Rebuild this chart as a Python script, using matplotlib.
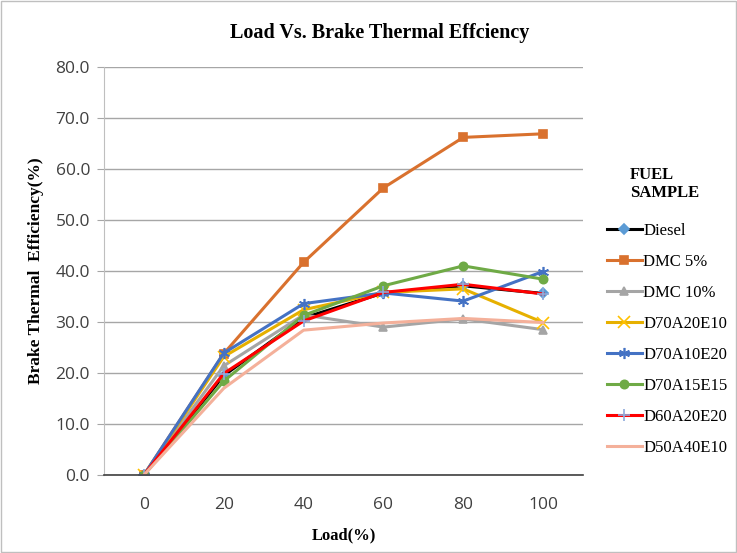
import matplotlib
matplotlib.use("Agg")
import matplotlib.pyplot as plt
from matplotlib.patches import Rectangle

loads = [0, 20, 40, 60, 80, 100]
load_labels = ["0", "20", "40", "60", "80", "100"]
yticks = [0, 10, 20, 30, 40, 50, 60, 70, 80]

diesel = [0, 19.5, 30.8, 35.7, 37.1, 35.6]
dmc5 = [0, 23.8, 41.7, 56.3, 66.2, 66.9]
dmc10 = [0, 21.4, 31.4, 29.0, 30.6, 28.5]
d70a20e10 = [0, 23.2, 32.4, 35.8, 36.5, 29.9]
d70a10e20 = [0, 23.9, 33.6, 35.7, 34.1, 39.9]
d70a15e15 = [0, 18.4, 31.3, 37.1, 41.0, 38.4]
d60a20e20 = [0, 19.9, 30.2, 35.8, 37.4, 35.5]
d50a40e10 = [0, 17.0, 28.4, 29.8, 30.7, 29.9]

series = [
    ("Diesel", diesel, "#000000", "D", "#5B9BD5"),
    ("DMC 5%", dmc5, "#D9712E", "s", "#D9712E"),
    ("DMC 10%", dmc10, "#A5A5A5", "^", "#A5A5A5"),
    ("D70A20E10", d70a20e10, "#E6B000", "x", "#FFC000"),
    ("D70A10E20", d70a10e20, "#4472C4", (6, 2, 0), "#4472C4"),
    ("D70A15E15", d70a15e15, "#6FAA46", "o", "#6FAA46"),
    ("D60A20E20", d60a20e20, "#FF0000", "+", "#8FAADC"),
    ("D50A40E10", d50a40e10, "#F4B09A", "None", "#F4B09A"),
]

fig = plt.figure(figsize=(7.37, 5.53), dpi=100)
ax = fig.add_axes([104/737, 1-475/553, (583-104)/737, (475-67)/553])

for name, vals, lc, mk, mc in series:
    ms = 6
    if mk == "D":
        ms = 5
    if mk in ("x", "+") or isinstance(mk, tuple):
        ms = 8
    ax.plot(loads, vals, color=lc, linewidth=2.2, marker=mk, markersize=ms,
            markerfacecolor=mc, markeredgecolor=mc, markeredgewidth=1.2,
            label=name)

ax.set_xlim(-10, 110)
ax.set_ylim(0, 80)
ax.set_yticks(yticks)
ax.set_yticklabels([f"{v:.1f}" for v in yticks])
ax.set_xticks(loads)
ax.set_xticklabels(load_labels)
ax.grid(axis="y", color="#A6A6A6", linewidth=1)
ax.set_axisbelow(True)
for s in ["top", "right"]:
    ax.spines[s].set_visible(False)
ax.spines["left"].set_color("#BFBFBF")
ax.spines["bottom"].set_color("#404040")
ax.spines["bottom"].set_linewidth(1.2)
ax.tick_params(axis="y", length=5, color="#A6A6A6", labelsize=12.5,
               labelcolor="#404040", pad=5)
ax.tick_params(axis="x", length=0, labelsize=12.5, labelcolor="#404040", pad=16)
for lab in ax.get_xticklabels() + ax.get_yticklabels():
    lab.set_family("Open Sans")

serif = "Liberation Serif"
fig.text(380/737, 1-33/553, "Load Vs. Brake Thermal Effciency", ha="center",
         va="center", fontsize=14.5, fontweight="bold", family=serif)
ax.set_xlabel("Load(%)", fontsize=12, fontweight="bold", family=serif, labelpad=10)
ax.set_ylabel("Brake Thermal  Efficiency(%)", fontsize=12.5, fontweight="bold",
              family=serif, labelpad=8)

fig.text(630/737, 1-175/553, "FUEL", ha="left", va="center",
         fontsize=12, fontweight="bold", family=serif)
fig.text(630/737, 1-193/553, "SAMPLE", ha="left", va="center",
         fontsize=12, fontweight="bold", family=serif)

leg = fig.legend(loc="upper left", bbox_to_anchor=(600/737, 1-216/553),
                 frameon=False, prop={"family": serif, "size": 12},
                 handlelength=2.1, handletextpad=0.1, labelspacing=0.9,
                 borderaxespad=0)

fig.patches.append(Rectangle((0.002, 0.002), 0.996, 0.996, transform=fig.transFigure,
                             fill=False, edgecolor="#BFBFBF", linewidth=1))

fig.savefig("out.png", dpi=100)
